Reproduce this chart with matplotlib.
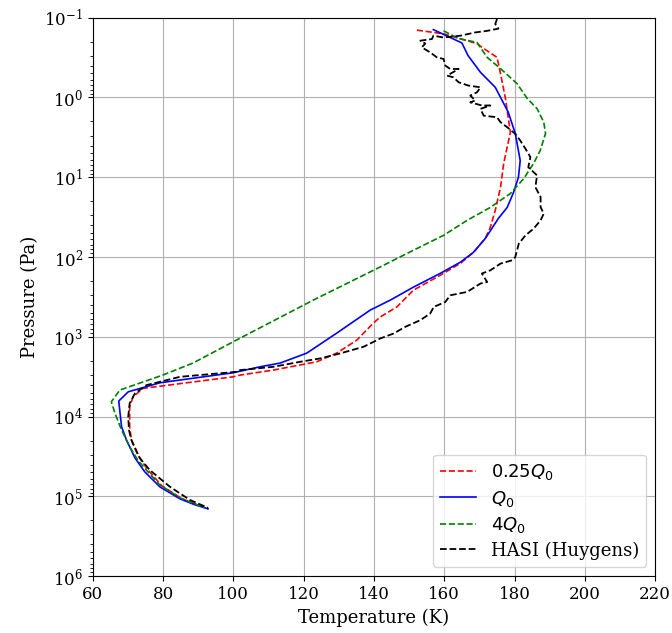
import matplotlib
matplotlib.use("Agg")
import matplotlib.pyplot as plt

plt.rcParams['font.family'] = 'serif'
plt.rcParams['font.size'] = 12

# 0.25 Q0 model
t_quarter = [152.2, 159.7, 169.3, 170.7, 175.0, 176.0, 177.4, 178.8, 178.3, 176.9, 176.0, 174.5,
             173.1, 171.7, 168.3, 164.6, 158.9, 151.2, 146.5, 141.8, 139.8, 135.1, 129.4, 123.7,
             111.3, 101.9, 99.9, 74.3, 71.5, 70.5, 70.5, 71.0, 72.8, 75.7, 79.7, 85.4, 92.8]
p_quarter = [0.143, 0.159, 0.211, 0.235, 0.314, 0.502, 1.03, 2.73, 3.46, 6.71, 13.4, 26.0,
             42.4, 58.3, 87.4, 120, 169, 261, 423, 564, 676, 1104, 1603, 2060,
             2620, 3025, 3180, 4440, 5650, 7540, 13430, 19700, 30300, 46800, 74200, 107700, 143600]

# Q0 model
t_q0 = [156.9, 165.0, 166.8, 170.3, 174.5, 178.2, 180.2, 181.6, 181.1, 179.7, 177.9, 175.4,
        171.7, 168.3, 164.6, 158.9, 151.2, 144.6, 138.9, 129.4, 120.9, 113.3, 107.6, 99.9,
        79.1, 70.1, 67.4, 68.2, 69.6, 72.0, 74.8, 79.1, 84.8, 89.1, 92.8]
p_q0 = [0.141, 0.207, 0.30, 0.484, 0.745, 1.53, 2.83, 6.17, 10.0, 15.5, 23.9, 32.8,
        58.3, 87.4, 116, 160, 239, 348, 464, 901, 1603, 2138, 2380, 2830,
        3777, 4900, 6400, 13430, 19700, 33000, 49400, 76200, 107700, 128000, 143600]

# 4 Q0 model
t_four = [159.8, 164.0, 169.3, 172.2, 176.0, 180.7, 183.6, 186.4, 188.3, 188.8, 187.3, 185.4,
          182.6, 178.8, 173.1, 166.5, 159.8, 151.2, 141.8, 122.7, 101.9, 88.5, 79.9, 67.7,
          65.3, 66.3, 68.2, 70.5, 72.8, 75.7, 79.1, 84.8, 91.9]
p_four = [0.146, 0.182, 0.204, 0.314, 0.435, 0.670, 1.03, 1.38, 2.04, 2.83, 4.62, 6.71,
          10.4, 16.0, 23.9, 34.7, 53.5, 82.4, 133, 348, 1042, 2138, 3025, 4660,
          6530, 9040, 14750, 23900, 35100, 49400, 72000, 104500, 139600]

# HASI measurements (Huygens)
t_hasi = [175.0, 174.5, 175.4, 172.2, 168.8, 164.6, 159.8, 156.9, 156.5, 153.2, 154.6, 153.6,
          156.0, 157.9, 159.8, 160.3, 161.7, 164.1, 160.8, 162.6, 164.1, 166.9, 170.3, 169.3,
          167.4, 168.8, 167.4, 170.7, 173.1, 170.3, 171.2, 175.0, 176.0, 177.9, 180.2, 181.6,
          183.1, 184.5, 183.9, 186.4, 185.9, 187.4, 187.4, 188.3, 187.4, 185.4, 183.1, 181.2,
          180.2, 179.3, 176.0, 173.1, 170.7, 172.2, 170.3, 166.5, 161.7, 160.3, 157.0, 156.0,
          153.2, 148.9, 145.6, 141.8, 139.9, 137.0, 130.4, 124.7, 119.0, 111.4, 101.9, 100.9,
          84.8, 75.3, 72.0, 70.5, 70.1, 70.3, 71.0, 73.4, 76.2, 81.9, 87.6, 92.8]
p_hasi = [0.104, 0.120, 0.137, 0.146, 0.153, 0.168, 0.177, 0.168, 0.185, 0.194, 0.211, 0.235,
          0.272, 0.314, 0.329, 0.399, 0.439, 0.439, 0.532, 0.559, 0.645, 0.710, 0.745, 0.861,
          0.946, 1.09, 1.15, 1.26, 1.26, 1.39, 1.69, 1.77, 2.04, 2.36, 2.86, 3.46,
          4.40, 5.60, 7.48, 9.49, 13.3, 17.7, 23.7, 28.6, 34.7, 44.2, 53.5, 68.0,
          100, 110, 121, 147, 161, 206, 215, 274, 302, 366, 423, 511,
          619, 751, 910, 1050, 1158, 1337, 1618, 1870, 2060, 2380, 2620, 2750,
          3180, 4040, 5130, 6840, 10070, 14750, 19700, 33300, 46800, 75700, 111000, 139600]

fig = plt.figure(figsize=(6.72, 6.33), dpi=100)
ax = fig.add_axes([0.138, 0.090, 0.837, 0.882])

ax.plot(t_quarter, p_quarter, 'r--', lw=1.2, label='$0.25Q_0$')
ax.plot(t_q0, p_q0, 'b-', lw=1.2, label='$Q_0$')
ax.plot(t_four, p_four, 'g--', lw=1.2, label='$4Q_0$')
ax.plot(t_hasi, p_hasi, 'k--', lw=1.3, label='HASI (Huygens)')

ax.set_yscale('log')
ax.set_xlim(60, 220)
ax.set_ylim(1e6, 1e-1)
ax.set_xlabel('Temperature (K)', fontsize=13)
ax.set_ylabel('Pressure (Pa)', fontsize=13)
ax.grid(True)
ax.legend(loc='lower right', fontsize=13, labelspacing=0.36)

fig.savefig('out.png', dpi=100)
